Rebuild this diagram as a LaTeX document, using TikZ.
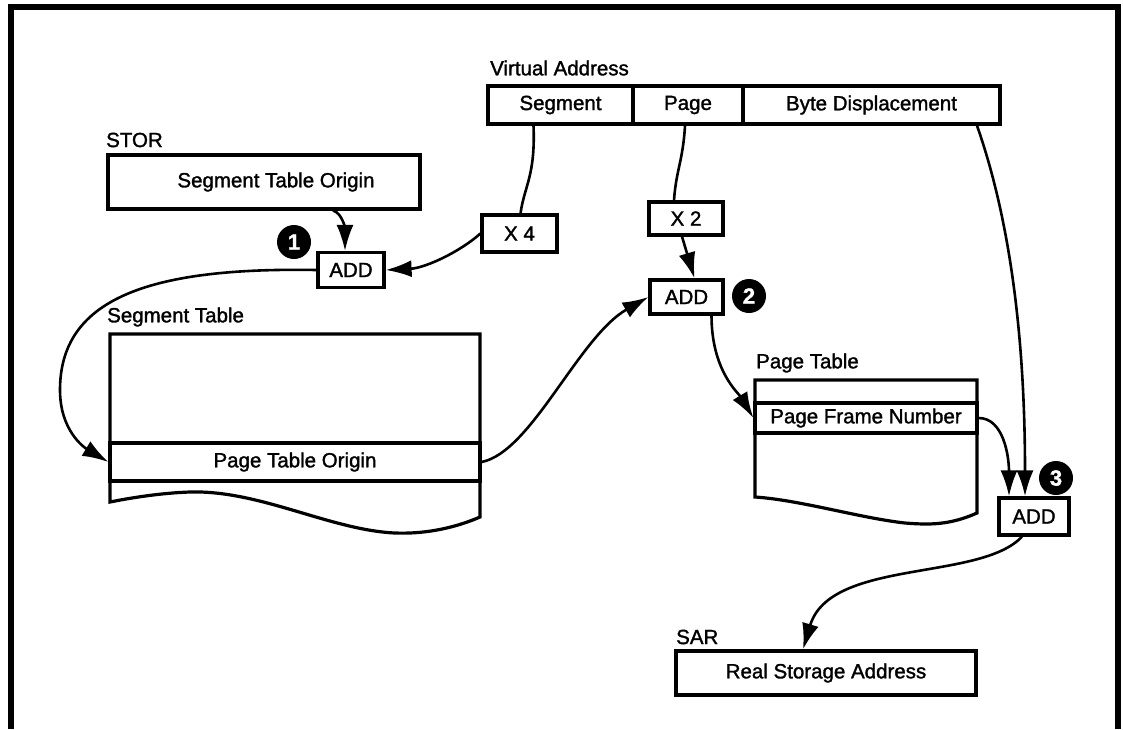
\documentclass[tikz,border=0pt]{standalone}
\usepackage{fontspec}
\setmainfont{Liberation Sans}[RawFeature={embolden=1.5}]
\usetikzlibrary{arrows.meta,calc}
\begin{document}
\begin{tikzpicture}[x=1pt,y=-1pt,
  font=\fontsize{20.5}{23}\selectfont,
  box/.style={draw, line width=3.2pt, rectangle, inner sep=0pt},
  conn/.style={line width=2.6pt},
  arr/.style={conn, -{Latex[length=26pt,width=17pt]}},
  num/.style={circle, fill=black, text=white, minimum size=34pt, inner sep=0pt, font=\fontsize{22}{24}\selectfont\bfseries},
  lbl/.style={anchor=west, inner sep=0pt},
  outline/.style={line width=3.2pt, line join=miter}]
\useasboundingbox (0,0) rectangle (1123,729);
% frame
\draw[line width=6pt] (11,729) -- (11,7) -- (1118,7) -- (1118,729);

% virtual address
\node[lbl] (vaL) at (490,68) {Virtual Address};
\node[box, minimum width=145pt, minimum height=38pt] (seg) at (560.5,105) {Segment};
\node[box, minimum width=110pt, minimum height=38pt] (pg) at (688,105) {Page};
\node[box, minimum width=257pt, minimum height=38pt] (bd) at (871.5,105) {Byte Displacement};

% STOR
\node[lbl] (storL) at (106,140) {STOR};
\node[box, minimum width=312pt, minimum height=54pt] (stor) at (264,182) {\hspace*{24pt}Segment Table Origin};
\node[box, minimum width=66pt, minimum height=35pt] (add1) at (351,270) {ADD};
\node[box, minimum width=75pt, minimum height=37pt] (x4) at (519.5,233.5) {X 4};
\node[box, minimum width=74pt, minimum height=33pt] (x2) at (686,218.5) {X 2};
\node[box, minimum width=73pt, minimum height=34pt] (add2) at (686.5,297) {ADD};
\node[num] (n1) at (294,242) {1};
\node[num] (n2) at (749,296) {2};
\node[num] (n3) at (1056,478) {3};

% segment table
\node[lbl] (stL) at (107,317) {Segment Table};
\draw[outline] (110,502) -- (110,334) -- (480,334) -- (480,517)
  .. controls (450,530) and (420,534) .. (395,533)
  .. controls (330,530) and (260,490) .. (190,492)
  .. controls (160,493) and (130,498) .. (110,502) -- cycle;
\node[box, minimum width=370pt, minimum height=38pt] (pto) at (295,462) {Page Table Origin};

% page table
\node[lbl] (ptL) at (756,363) {Page Table};
\draw[outline] (755,497) -- (755,380) -- (977,380) -- (977,513)
  .. controls (950,525) and (930,525) .. (905,523)
  .. controls (860,518) and (800,500) .. (755,497) -- cycle;
\node[box, minimum width=222pt, minimum height=30pt] (pfn) at (866,418) {Page Frame Number};

% SAR
\node[lbl] (sarL) at (676,637) {SAR};
\node[box, minimum width=300pt, minimum height=44pt] (sar) at (826,673) {Real Storage Address};
\node[box, minimum width=70pt, minimum height=37pt] (add3) at (1034,516.5) {ADD};

% connectors
\coordinate (sw) at (60,390);
\draw[conn] ([xshift=-27pt]seg.south) .. controls +(2,50) and +(4,-28) .. ([xshift=1pt]x4.north);
\draw[arr] (x4.west) .. controls +(-20,18) and +(40,-2) .. (add1.east);
\draw[arr] ([xshift=69pt]stor.south) .. controls +(9,2) and +(0,-22) .. ([xshift=-6pt]add1.north);
\draw[arr] (add1.west) .. controls +(-170,-3) and +(0,-90) .. (sw) .. controls +(0,40) and +(-25,-15) .. (pto.west);
\draw[conn] ([xshift=-3pt]pg.south) .. controls +(-2,35) and +(2,-30) .. ([xshift=-12pt]x2.north);
\draw[arr] ([xshift=-4pt]x2.south) -- ([xshift=8pt]add2.north);
\draw[arr] (pto.east) .. controls +(50,-10) and +(-70,40) .. (add2.west);
\draw[arr] ([xshift=25pt]add2.south) .. controls +(0,55) and +(-15,-25) .. (pfn.west);
\draw[arr] (pfn.east) .. controls +(25,0) and +(0,-40) .. ([xshift=-25pt]add3.north);
\draw[arr] ([xshift=105.5pt]bd.south) .. controls +(35,100) and +(0,-150) .. ([xshift=-9pt]add3.north);
\draw[arr] ([xshift=-12pt]add3.south) .. controls +(-42,45) and +(27,-91) .. ([xshift=-23pt]sar.north);
\end{tikzpicture}
\end{document}
